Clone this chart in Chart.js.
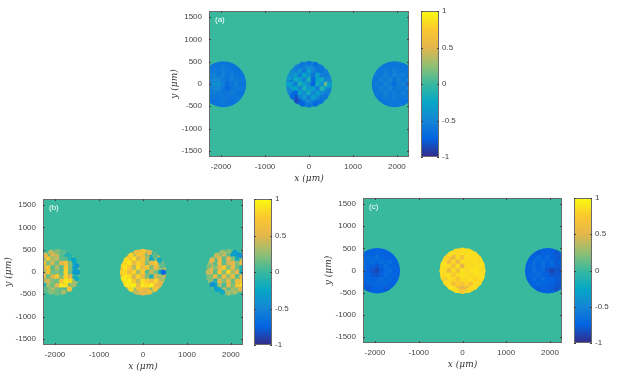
<!DOCTYPE html>
<html>
<head>
<meta charset="utf-8">
<script src="https://cdn.jsdelivr.net/npm/chart.js@4"></script>
<style>
    html, body { margin: 0; padding: 0; background: #fff; }
    body { position: relative; width: 618px; height: 377px; overflow: hidden; }
    canvas { position: absolute; filter: blur(0.6px); }
</style>
</head>
<body>
<script>
// Axis ticks
const xTicks = [-2000, -1000, 0, 1000, 2000];
const yTicks = [-1500, -1000, -500, 0, 500, 1000, 1500];
const barTicks = [-1, -0.5, 0, 0.5, 1];

// Disc positions in um, same for all panels
const discX = [-1950, 0, 1950];
const discY = -5;
const discRadius = 522;
const ringRadius = 465;

// Mean value of each disc: left, middle, right
const meansA = [-0.62, -0.5, -0.6];
const meansB = [0.12, 0.55, 0.12];
const meansC = [-0.75, 0.84, -0.76];

// Sampled rows, top (y=400) to bottom (y=-400), 100 um apart, centred on the disc
const aLeft = [
    [-.62, -.6, -.58, -.62, -.64],
    [-.6, -.57, -.6, -.55, -.6, -.62, -.64],
    [-.6, -.56, -.52, -.6, -.54, -.6, -.56, -.62, -.63],
    [-.58, -.53, -.47, -.5, -.58, -.62, -.55, -.58, -.6],
    [-.56, -.52, -.45, -.42, -.55, -.68, -.6, -.55, -.62],
    [-.58, -.55, -.5, -.48, -.6, -.7, -.62, -.57, -.6],
    [-.62, -.58, -.55, -.58, -.62, -.6, -.56, -.6, -.64],
    [-.63, -.6, -.62, -.58, -.6, -.62, -.6],
    [-.63, -.62, -.6, -.62, -.65]
];
const aMid = [
    [-.6, -.5, -.45, -.5, -.6],
    [-.55, -.4, -.6, -.3, -.5, -.6, -.65],
    [-.45, -.35, -.55, -.25, -.4, -.6, -.3, -.55, -.6],
    [-.6, -.2, -.3, -.5, -.15, -.7, -.3, -.2, -.5],
    [-.35, -.55, -.15, -.3, -.45, -.75, -.2, -.4, .15],
    [-.3, -.25, -.5, -.15, -.35, -.3, -.55, -.1, -.3],
    [-.6, -.75, -.3, -.45, -.2, -.5, -.3, -.45, -.55],
    [-.85, -.55, -.35, -.55, -.3, -.45, -.6],
    [-.7, -.55, -.45, -.55, -.65]
];
const aRight = [
    [-.62, -.6, -.62, -.6, -.62],
    [-.6, -.56, -.6, -.54, -.6, -.6, -.62],
    [-.58, -.6, -.52, -.6, -.5, -.58, -.55, -.6, -.62],
    [-.6, -.52, -.58, -.5, -.6, -.52, -.6, -.55, -.6],
    [-.56, -.6, -.5, -.58, -.66, -.56, -.52, -.6, -.6],
    [-.6, -.52, -.58, -.52, -.6, -.58, -.6, -.54, -.62],
    [-.6, -.6, -.52, -.6, -.55, -.6, -.55, -.6, -.63],
    [-.62, -.56, -.6, -.55, -.6, -.6, -.62],
    [-.64, -.6, -.62, -.6, -.64]
];
const bLeft = [
    [.1, .5, .4, .1, -.2],
    [.2, .75, .3, .4, .1, .1, -.1],
    [.65, .7, .2, .45, .15, .5, .65, .2, -.2],
    [.5, .45, .7, .1, .35, .1, .75, .2, -.3],
    [.6, .35, .7, .15, .2, .1, .8, .15, -.35],
    [.4, .55, .15, .45, .75, .2, .8, .5, -.1],
    [.1, .35, .45, .2, .15, .7, .9, .85, .3],
    [-.2, .3, .15, .5, .9, .85, .2],
    [.2, .35, .15, .1, 0]
];
const bMid = [
    [.3, .75, .6, .2, -.1],
    [.6, .85, .45, .7, .3, -.2, .15],
    [.8, .9, .55, .8, .65, .2, .55, .7, .1],
    [.9, .75, .35, .85, .55, .7, .2, .6, .3],
    [.85, .6, .8, .3, .75, .1, .4, .2, -.2],
    [.9, .85, .45, .8, .55, .2, -.1, .45, .3],
    [.85, .95, .7, .4, .85, .75, .6, .8, .5],
    [.9, .95, .55, .9, .85, .95, .6],
    [.3, .7, .6, .5, .2]
];
const bRight = [
    [.2, .45, .1, -.3, -.35],
    [.1, .55, .1, .5, .2, -.2, .3],
    [.4, .1, .6, .1, .45, .5, .2, .6, .1],
    [.55, .2, .5, .75, .2, .55, .15, -.1, .5],
    [.5, .1, .7, .2, .8, .3, .5, -.2, .45],
    [.2, .55, .15, .6, .25, .6, .1, .55, .6],
    [.3, -.1, .5, .2, .55, .15, .6, .7, .75],
    [-.3, .3, .05, .5, .2, .7, .85],
    [-.2, .4, .1, .3, .2]
];
const cLeft = [
    [-.76, -.74, -.72, -.74, -.76],
    [-.72, -.68, -.72, -.66, -.72, -.74, -.76],
    [-.72, -.66, -.72, -.68, -.72, -.66, -.72, -.68, -.74],
    [-.74, -.68, -.74, -.76, -.8, -.74, -.66, -.72, -.72],
    [-.76, -.7, -.76, -.82, -.86, -.78, -.7, -.66, -.74],
    [-.78, -.72, -.74, -.78, -.82, -.76, -.68, -.72, -.72],
    [-.78, -.74, -.7, -.74, -.72, -.68, -.72, -.7, -.74],
    [-.78, -.74, -.72, -.7, -.72, -.7, -.76],
    [-.8, -.76, -.74, -.74, -.78]
];
const cMid = [
    [.85, .83, .87, .85, .85],
    [.7, .55, .85, .66, .87, .85, .87],
    [.85, .6, .83, .55, .85, .83, .85, .87, .85],
    [.87, .83, .66, .87, .5, .85, .83, .87, .85],
    [.83, .58, .85, .66, .87, .83, .87, .89, .85],
    [.85, .87, .7, .85, .87, .85, .83, .87, .87],
    [.66, .85, .83, .68, .85, .83, .87, .8, .85],
    [.83, .64, .77, .66, .8, .68, .85],
    [.85, .58, .5, .56, .83]
];
const cRight = [
    [-.78, -.76, -.74, -.76, -.8],
    [-.74, -.68, -.74, -.68, -.76, -.78, -.82],
    [-.76, -.66, -.72, -.68, -.74, -.7, -.78, -.76, -.84],
    [-.72, -.68, -.74, -.66, -.76, -.74, -.78, -.8, -.84],
    [-.74, -.66, -.72, -.7, -.8, -.88, -.82, -.82, -.86],
    [-.72, -.7, -.66, -.74, -.76, -.82, -.8, -.78, -.84],
    [-.76, -.68, -.74, -.68, -.74, -.72, -.78, -.8, -.84],
    [-.74, -.7, -.72, -.74, -.76, -.78, -.82],
    [-.78, -.74, -.76, -.78, -.82]
];

// Values along the disc edge, clockwise from the top, 18 degrees apart
const aMidEdge = [-.6, -.65, -.6, -.55, -.5, -.3, -.55, -.6, -.65, -.7, -.6, -.75, -.85, -.7, -.5, -.3, -.35, -.45, -.55, -.6];
const bLeftEdge = [.2, .1, -.1, -.25, -.35, -.35, -.2, .3, .7, .3, .15, .2, .1, -.3, -.3, .3, .5, .6, .5, .4];
const bMidEdge = [.7, .5, .1, -.2, .1, -.7, .3, .5, .7, .6, .5, .4, .85, .9, .9, .8, .85, .85, .8, .6];
const bRightEdge = [.2, -.3, -.4, .2, .3, .4, .6, .7, .5, .3, .3, -.2, -.3, -.4, .2, .4, .2, .5, .4, .3];
const cMidEdge = [.85, .87, .85, .83, .87, .85, .87, .83, .85, .82, .7, .85, .87, .85, .83, .85, .87, .8, .85, .83];

const parula = ['#352a87', '#0363e1', '#1485d4', '#06a7c6', '#38b99e', '#92bf73', '#e4b64c', '#fcc82e', '#f9fb0e'];
const textColor = '#444';
const boxColor = '#6b6b6b';
const tickFont = { family: '"Liberation Sans"', size: 8 };

function colorFor(v) {
    const t = Math.max(0, Math.min(1, (v + 1) / 2)) * (parula.length - 1);
    const i = Math.min(Math.floor(t), parula.length - 2);
    const a = parseInt(parula[i].slice(1), 16);
    const b = parseInt(parula[i + 1].slice(1), 16);
    const mix = function(shift) {
        const p = (a >> shift) & 255;
        const q = (b >> shift) & 255;
        return Math.round(p + (q - p) * (t - i));
    };
    return 'rgb(' + mix(16) + ',' + mix(8) + ',' + mix(0) + ')';
}

function addCanvas(left, top, width, height) {
    const canvas = document.createElement('canvas');
    canvas.style.left = left + 'px';
    canvas.style.top = top + 'px';
    canvas.style.width = width + 'px';
    canvas.style.height = height + 'px';
    canvas.width = width;
    canvas.height = height;
    document.body.appendChild(canvas);
    return canvas;
}

// Fixes an axis box so the plot area lands where it should
function fixAxis(axis, size) {
    if (axis.isHorizontal()) axis.height = size;
    else axis.width = size;
    axis.paddingTop = 0;
    axis.paddingBottom = 0;
    axis.paddingLeft = 0;
    axis.paddingRight = 0;
}

function useTicks(values) {
    return function(axis) {
        axis.ticks = values.map(function(v) { return { value: v }; });
    };
}

function plainLabel(value) {
    return String(value);
}

// Plot background, box outline with inward ticks and the panel letter
const framePlugin = {
    id: 'frame',
    beforeDatasetsDraw(chart, args, opts) {
        if (opts.fill === undefined) return;
        const a = chart.chartArea;
        chart.ctx.fillStyle = colorFor(opts.fill);
        chart.ctx.fillRect(a.left, a.top, a.width, a.height);
    },
    afterDraw(chart, args, opts) {
        const ctx = chart.ctx;
        const a = chart.chartArea;
        ctx.save();
        ctx.strokeStyle = boxColor;
        ctx.lineWidth = 1;
        ctx.strokeRect(a.left + 0.5, a.top + 0.5, a.width - 1, a.height - 1);
        ctx.strokeStyle = '#444';
        ctx.beginPath();
        chart.scales.y.ticks.forEach(function(t) {
            const py = Math.round(chart.scales.y.getPixelForValue(t.value)) + 0.5;
            ctx.moveTo(a.left, py);
            ctx.lineTo(a.left + 2, py);
            ctx.moveTo(a.right, py);
            ctx.lineTo(a.right - 2, py);
        });
        if (opts.letter) {
            chart.scales.x.ticks.forEach(function(t) {
                const px = Math.round(chart.scales.x.getPixelForValue(t.value)) + 0.5;
                ctx.moveTo(px, a.top);
                ctx.lineTo(px, a.top + 2);
                ctx.moveTo(px, a.bottom);
                ctx.lineTo(px, a.bottom - 2);
            });
        }
        ctx.stroke();
        if (opts.letter) {
            ctx.fillStyle = '#fff';
            ctx.font = '8px "Liberation Sans"';
            ctx.textBaseline = 'middle';
            ctx.fillText(opts.letter, a.left + 6, a.top + 8.5);
        }
        ctx.restore();
    }
};

function pointDataset(points, radius) {
    return {
        data: points,
        pointStyle: 'circle',
        pointBorderWidth: 0,
        pointRadius: radius,
        pointBackgroundColor: function(c) { return colorFor(c.raw.v); }
    };
}

function discDataset(means) {
    const points = discX.map(function(x, i) { return { x: x, y: discY, v: means[i] }; });
    return pointDataset(points, function(c) {
        const s = c.chart.scales.x;
        return s.getPixelForValue(discRadius) - s.getPixelForValue(0);
    });
}

function cellDataset(centre, rows) {
    const points = [];
    rows.forEach(function(row, r) {
        row.forEach(function(v, k) {
            points.push({ x: centre + (k - (row.length - 1) / 2) * 100, y: discY + 400 - r * 100, v: v });
        });
    });
    return pointDataset(points, 2.7);
}

function edgeDataset(centre, values) {
    const points = values.map(function(v, i) {
        const angle = i * 2 * Math.PI / values.length;
        return { x: centre + ringRadius * Math.sin(angle), y: discY + ringRadius * Math.cos(angle), v: v };
    });
    return pointDataset(points, 2.7);
}

// box = [left, top, right, bottom] of the plot area in page pixels
function drawPanel(box, bar, letter, means, cells, edges) {
    const padLeft = 40, padTop = 5, padRight = 6, padBottom = 27;
    const canvas = addCanvas(box[0] - padLeft, box[1] - padTop,
        box[2] - box[0] + padLeft + padRight, box[3] - box[1] + padTop + padBottom);
    // first dataset is painted last, so the plain discs go at the end
    const datasets = [];
    edges.forEach(function(edge, i) {
        if (edge) datasets.push(edgeDataset(discX[i], edge));
    });
    cells.forEach(function(rows, i) {
        datasets.push(cellDataset(discX[i], rows));
    });
    datasets.push(discDataset(means));
    new Chart(canvas.getContext('2d'), {
        type: 'scatter',
        data: { datasets: datasets },
        options: {
            responsive: false,
            animation: false,
            events: [],
            layout: { padding: { top: padTop, right: padRight } },
            plugins: {
                legend: { display: false },
                tooltip: { enabled: false },
                frame: { fill: 0, letter: letter }
            },
            scales: {
                x: {
                    type: 'linear',
                    min: -2275,
                    max: 2275,
                    afterBuildTicks: useTicks(xTicks),
                    afterFit: function(axis) { fixAxis(axis, padBottom); },
                    grid: { display: false, drawTicks: false },
                    border: { display: false },
                    ticks: { color: textColor, font: tickFont, padding: 5, maxRotation: 0, autoSkip: false, callback: plainLabel },
                    title: {
                        display: true,
                        text: 'x (\u03bcm)',
                        color: '#333',
                        padding: 0,
                        font: { family: '"DejaVu Serif"', size: 9, style: 'italic' }
                    }
                },
                y: {
                    type: 'linear',
                    min: -1640,
                    max: 1640,
                    afterBuildTicks: useTicks(yTicks),
                    afterFit: function(axis) { fixAxis(axis, padLeft); },
                    grid: { display: false, drawTicks: false },
                    border: { display: false },
                    ticks: { color: textColor, font: tickFont, padding: 7, autoSkip: false, callback: plainLabel },
                    title: {
                        display: true,
                        text: 'y (\u03bcm)',
                        color: '#333',
                        padding: 0,
                        font: { family: '"DejaVu Serif"', size: 9, style: 'italic' }
                    }
                }
            }
        },
        plugins: [framePlugin]
    });
    drawColorbar(bar, box[1], box[3]);
}

// Colour scale as a single floating bar from -1 to 1 on its own value axis
function drawColorbar(bar, top, bottom) {
    const padLeft = 2, padTop = 5, padRight = 24, padBottom = 5;
    const canvas = addCanvas(bar[0] - padLeft, top - padTop,
        bar[1] - bar[0] + padLeft + padRight, bottom - top + padTop + padBottom);
    new Chart(canvas.getContext('2d'), {
        type: 'bar',
        data: {
            labels: [''],
            datasets: [{
                data: [[-1, 1]],
                barPercentage: 1,
                categoryPercentage: 1,
                borderWidth: 0,
                backgroundColor: function(c) {
                    const a = c.chart.chartArea;
                    if (!a) return parula[4];
                    const g = c.chart.ctx.createLinearGradient(0, a.bottom, 0, a.top);
                    parula.forEach(function(col, i) { g.addColorStop(i / (parula.length - 1), col); });
                    return g;
                }
            }]
        },
        options: {
            responsive: false,
            animation: false,
            events: [],
            layout: { padding: { left: padLeft, top: padTop, bottom: padBottom } },
            plugins: { legend: { display: false }, tooltip: { enabled: false }, frame: {} },
            scales: {
                x: { display: false },
                y: {
                    position: 'right',
                    min: -1,
                    max: 1,
                    afterBuildTicks: useTicks(barTicks),
                    afterFit: function(axis) { fixAxis(axis, padRight); },
                    grid: { display: false, drawTicks: false },
                    border: { display: false },
                    ticks: { color: textColor, font: tickFont, padding: 3, autoSkip: false, callback: plainLabel }
                }
            }
        },
        plugins: [framePlugin]
    });
}

drawPanel([209, 11, 409, 157], [421, 439], '(a)', meansA, [aLeft, aMid, aRight], [null, aMidEdge, null]);
drawPanel([43, 199, 243, 345], [254, 272], '(b)', meansB, [bLeft, bMid, bRight], [bLeftEdge, bMidEdge, bRightEdge]);
drawPanel([363, 198, 562, 343], [574, 592], '(c)', meansC, [cLeft, cMid, cRight], [null, cMidEdge, null]);
</script>
</body>
</html>
